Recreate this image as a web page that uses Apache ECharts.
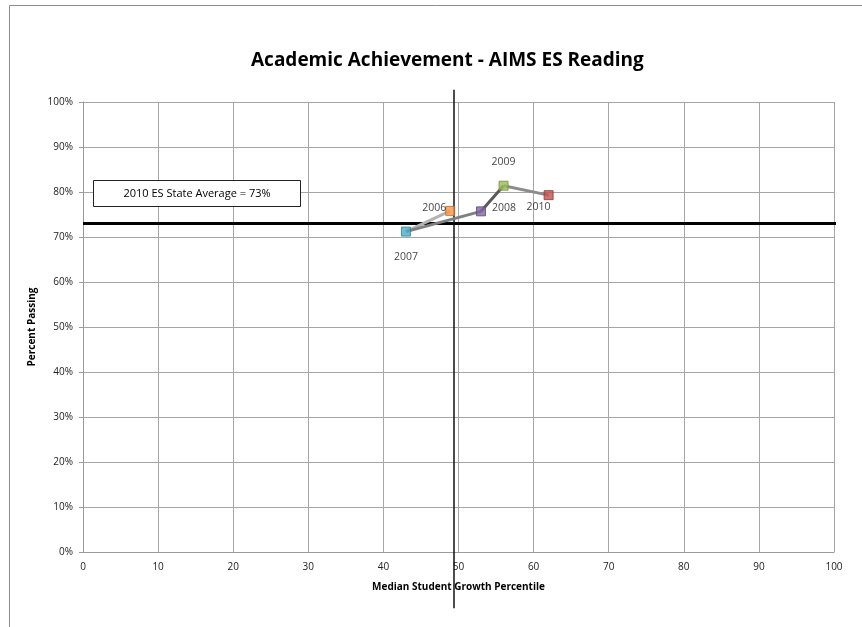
<!DOCTYPE html>
<html>
<head>
<meta charset="utf-8">
<script src="https://cdn.jsdelivr.net/npm/echarts@6/dist/echarts.min.js"></script>
<style>
  html, body { margin: 0; padding: 0; background: #fff; }
  #chart { width: 862px; height: 627px; }
</style>
</head>
<body>
<div id="chart"></div>
<script>
// data
const years = ['2006', '2007', '2008', '2009', '2010']
const growth = [48.9, 43.0, 53.0, 56.0, 62.0]
const passing = [75.8, 71.2, 75.7, 81.4, 79.3]
const markerColors = ['#F79646', '#4BACC6', '#8064A2', '#9BBB59', '#C0504D']
const markerBorders = ['#B66D31', '#357D91', '#5C4776', '#718C3F', '#8C3836']
const segmentColors = ['#B3B3B3', '#7F7F7F', '#595959', '#8C8C8C']
const stateAvg = 73
const medianLine = 49.4
const xTicks = [0, 10, 20, 30, 40, 50, 60, 70, 80, 90, 100]
const yTicks = [0, 10, 20, 30, 40, 50, 60, 70, 80, 90, 100]

// label placement for each year
const labelPos = [
  { position: 'left', offset: [6, -3] },
  { position: 'bottom', distance: 15 },
  { position: 'right', distance: 6, offset: [0, -3] },
  { position: 'top', distance: 13 },
  { position: 'bottom', offset: [-10, -4] }
]

const chart = echarts.init(document.getElementById('chart'))

const segments = []
for (let i = 0; i < years.length - 1; i++) {
  segments.push({
    type: 'line',
    symbol: 'none',
    silent: true,
    z: 3,
    lineStyle: { color: segmentColors[i], width: 3 },
    data: [[growth[i], passing[i]], [growth[i + 1], passing[i + 1]]]
  })
}

const points = years.map(function (y, i) {
  return {
    value: [growth[i], passing[i]],
    name: y,
    itemStyle: { color: markerColors[i], borderColor: markerBorders[i], borderWidth: 1 },
    label: Object.assign({ show: true, formatter: y, color: '#111', fontSize: 10.5, fontFamily: 'Open Sans' }, labelPos[i])
  }
})

const option = {
  animation: false,
  title: {
    text: 'Academic Achievement - AIMS ES Reading',
    left: 246,
    top: 46,
    textStyle: { fontFamily: 'Open Sans', fontWeight: 'bold', fontSize: 19, color: '#000' }
  },
  grid: { left: 83, right: 28, top: 102, bottom: 75 },
  xAxis: {
    type: 'value',
    min: 0, max: 100, interval: 10,
    name: 'Median Student Growth Percentile',
    nameLocation: 'middle',
    nameGap: 30,
    nameTextStyle: { fontFamily: 'Open Sans', fontWeight: 'bold', fontSize: 10, color: '#000' },
    axisLine: { show: true, lineStyle: { color: '#9a9a9a' } },
    axisTick: { show: false },
    axisLabel: { fontFamily: 'Open Sans', fontSize: 10, color: '#222', margin: 10,
      formatter: function (v) { return xTicks.indexOf(v) >= 0 ? String(v) : '' } },
    splitLine: { show: true, lineStyle: { color: '#a6a6a6' } }
  },
  yAxis: {
    type: 'value',
    min: 0, max: 100, interval: 10,
    name: 'Percent Passing',
    nameLocation: 'middle',
    nameGap: 46,
    nameTextStyle: { fontFamily: 'Open Sans', fontWeight: 'bold', fontSize: 10, color: '#000' },
    axisLine: { show: true, lineStyle: { color: '#9a9a9a' } },
    axisTick: { show: true, length: 4, lineStyle: { color: '#9a9a9a' } },
    axisLabel: { fontFamily: 'Open Sans', fontSize: 10, color: '#222', margin: 10,
      formatter: function (v) { return yTicks.indexOf(v) >= 0 ? v + '%' : '' } },
    splitLine: { show: true, lineStyle: { color: '#a6a6a6' } }
  },
  graphic: [
    {
      type: 'rect',
      shape: { x: 9.5, y: 5.5, width: 900, height: 700 },
      style: { fill: 'none', stroke: '#8c8c8c', lineWidth: 1 },
      silent: true
    },
    {
      type: 'group',
      left: 93, top: 180,
      children: [
        { type: 'rect', shape: { x: 0.5, y: 0.5, width: 207, height: 26 },
          style: { fill: '#fff', stroke: '#222', lineWidth: 1 }, z: 10 },
        { type: 'text', x: 104, y: 14, z: 11,
          style: { text: '2010 ES State Average = 73%', fontFamily: 'Open Sans', fontSize: 11,
            fill: '#000', align: 'center', verticalAlign: 'middle' } }
      ]
    }
  ],
  series: [
    {
      type: 'line',
      symbol: 'none',
      silent: true,
      clip: false,
      z: 2,
      lineStyle: { color: '#000', width: 3 },
      data: [[0, stateAvg], [100.3, stateAvg]]
    },
    {
      type: 'line',
      symbol: 'none',
      silent: true,
      clip: false,
      z: 2,
      lineStyle: { color: '#111', width: 1.5 },
      data: [[medianLine, -12.5], [medianLine, 102.7]]
    }
  ].concat(segments).concat([
    {
      type: 'scatter',
      symbol: 'rect',
      symbolSize: 9,
      z: 5,
      data: points
    }
  ])
}

chart.setOption(option)
window.addEventListener('resize', function () {
  chart.resize()
})
</script>
</body>
</html>
